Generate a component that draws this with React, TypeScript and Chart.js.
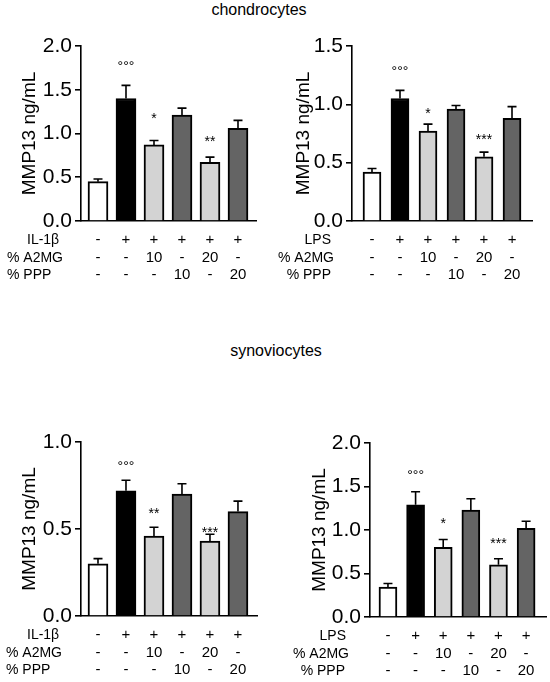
import React, { useEffect, useRef } from "react";
import { Chart, registerables } from "chart.js";

Chart.register(...registerables);

const FONT = "'Liberation Sans', Arial, Helvetica, sans-serif";

// ---------- data ----------
const groups = ["control", "stimulus", "A2MG 10", "PPP 10", "A2MG 20", "PPP 20"];
const stimRow = ["-", "+", "+", "+", "+", "+"];
const a2mgRow = ["-", "-", "10", "-", "20", "-"];
const pppRow = ["-", "-", "-", "10", "-", "20"];
const barColors = ["#ffffff", "#000000", "#d3d3d3", "#646464", "#d3d3d3", "#646464"];

const chondroIL1Mean = [0.45, 1.4, 0.87, 1.21, 0.67, 1.06];
const chondroIL1Sem = [0.03, 0.15, 0.05, 0.08, 0.06, 0.09];
const chondroIL1Marks = [
  { bar: 1, text: "°°°", y: 1.8 },
  { bar: 2, text: "*", y: 1.21 },
  { bar: 4, text: "**", y: 0.95 },
];

const chondroLPSMean = [0.42, 1.05, 0.77, 0.96, 0.55, 0.88];
const chondroLPSSem = [0.03, 0.07, 0.06, 0.03, 0.04, 0.1];
const chondroLPSMarks = [
  { bar: 1, text: "°°°", y: 1.31 },
  { bar: 2, text: "*", y: 0.95 },
  { bar: 4, text: "***", y: 0.73 },
];

const synoIL1Mean = [0.3, 0.72, 0.46, 0.7, 0.43, 0.6];
const synoIL1Sem = [0.03, 0.06, 0.05, 0.06, 0.04, 0.06];
const synoIL1Marks = [
  { bar: 1, text: "°°°", y: 0.88 },
  { bar: 2, text: "**", y: 0.61 },
  { bar: 4, text: "***", y: 0.5 },
];

const synoLPSMean = [0.345, 1.29, 0.8, 1.23, 0.6, 1.02];
const synoLPSSem = [0.04, 0.15, 0.09, 0.13, 0.07, 0.08];
const synoLPSMarks = [
  { bar: 1, text: "°°°", y: 1.67 },
  { bar: 2, text: "*", y: 1.11 },
  { bar: 4, text: "***", y: 0.88 },
];

const yTitle = "MMP13 ng/mL";

// ---------- layout ----------
type Mark = { bar: number; text: string; y: number };
type Header = { x: number; align: CanvasTextAlign };
type PanelCfg = {
  box: { left: number; top: number; width: number; height: number };
  area: { left: number; right: number; top: number; bottom: number };
  xMin: number;
  xMax: number;
  yMax: number;
  barThickness: number;
  stimLabel: string;
  means: number[];
  sems: number[];
  marks: Mark[];
  headers: Header[];
  yTitleX: number;
};

const panels: PanelCfg[] = [
  {
    box: { left: 0, top: 28, width: 275, height: 262 },
    area: { left: 81, right: 256, top: 46, bottom: 221 },
    xMin: -0.607,
    xMax: 5.643,
    yMax: 2,
    barThickness: 20,
    stimLabel: "IL-1β",
    means: chondroIL1Mean,
    sems: chondroIL1Sem,
    marks: chondroIL1Marks,
    headers: [
      { x: 27, align: "left" },
      { x: 7, align: "left" },
      { x: 7, align: "left" },
    ],
    yTitleX: 30,
  },
  {
    box: { left: 275, top: 28, width: 275, height: 262 },
    area: { left: 352, right: 532, top: 46, bottom: 221 },
    xMin: -0.714,
    xMax: 5.714,
    yMax: 1.5,
    barThickness: 18,
    stimLabel: "LPS",
    means: chondroLPSMean,
    sems: chondroLPSSem,
    marks: chondroLPSMarks,
    headers: [
      { x: 56, align: "right" },
      { x: 59, align: "right" },
      { x: 56, align: "right" },
    ],
    yTitleX: 29,
  },
  {
    box: { left: 0, top: 424, width: 275, height: 258 },
    area: { left: 81, right: 257, top: 442, bottom: 616 },
    xMin: -0.607,
    xMax: 5.68,
    yMax: 1,
    barThickness: 20,
    stimLabel: "IL-1β",
    means: synoIL1Mean,
    sems: synoIL1Sem,
    marks: synoIL1Marks,
    headers: [
      { x: 27, align: "left" },
      { x: 6, align: "left" },
      { x: 6, align: "left" },
    ],
    yTitleX: 30,
  },
  {
    box: { left: 275, top: 424, width: 275, height: 258 },
    area: { left: 370, right: 546, top: 443, bottom: 617 },
    xMin: -0.65,
    xMax: 5.72,
    yMax: 2,
    barThickness: 18,
    stimLabel: "LPS",
    means: synoLPSMean,
    sems: synoLPSSem,
    marks: synoLPSMarks,
    headers: [
      { x: 71, align: "right" },
      { x: 74, align: "right" },
      { x: 70, align: "right" },
    ],
    yTitleX: 45,
  },
];

function Panel({ cfg }: { cfg: PanelCfg }) {
  const ref = useRef<HTMLCanvasElement | null>(null);

  useEffect(() => {
    if (!ref.current) return;
    const { box, area } = cfg;
    const rowLabels = [stimRow, a2mgRow, pppRow];
    const headerTexts = [cfg.stimLabel, "% A2MG", "% PPP"];
    const rowOffsets = [19, 37, 54];

    const overlay = {
      id: "overlay",
      afterDatasetsDraw(chart: any) {
        const ctx = chart.ctx as CanvasRenderingContext2D;
        const xs = chart.scales.x;
        const ys = chart.scales.y;
        ctx.save();
        // error bars
        ctx.strokeStyle = "#000";
        ctx.lineWidth = 1.6;
        cfg.means.forEach((m, i) => {
          const x = xs.getPixelForValue(i);
          const y0 = ys.getPixelForValue(m);
          const y1 = ys.getPixelForValue(m + cfg.sems[i]);
          ctx.beginPath();
          ctx.moveTo(x, y0);
          ctx.lineTo(x, y1);
          ctx.moveTo(x - 4.5, y1);
          ctx.lineTo(x + 4.5, y1);
          ctx.stroke();
        });
        // significance marks
        ctx.fillStyle = "#000";
        ctx.font = `14px ${FONT}`;
        ctx.textAlign = "center";
        ctx.textBaseline = "alphabetic";
        cfg.marks.forEach((mk) => {
          const x = xs.getPixelForValue(mk.bar);
          const y = ys.getPixelForValue(mk.y);
          ctx.fillText(mk.text, x, y + 0.57 * 14);
        });
        ctx.restore();
      },
      afterDraw(chart: any) {
        const ctx = chart.ctx as CanvasRenderingContext2D;
        const xs = chart.scales.x;
        const ca = chart.chartArea;
        ctx.save();
        ctx.fillStyle = "#000";
        ctx.textBaseline = "middle";
        rowLabels.forEach((row, r) => {
          const y = ca.bottom + rowOffsets[r];
          ctx.font = `14px ${FONT}`;
          ctx.textAlign = cfg.headers[r].align;
          ctx.fillText(headerTexts[r], cfg.headers[r].x, y);
          ctx.font = `15px ${FONT}`;
          ctx.textAlign = "center";
          row.forEach((t, i) => {
            ctx.fillText(t, xs.getPixelForValue(i), y);
          });
        });
        // y-axis title
        ctx.font = `19px ${FONT}`;
        ctx.textAlign = "center";
        ctx.textBaseline = "middle";
        ctx.translate(cfg.yTitleX, (ca.top + ca.bottom) / 2);
        ctx.rotate(-Math.PI / 2);
        ctx.fillText(yTitle, 0, 0);
        ctx.restore();
      },
    };

    const chart = new Chart(ref.current, {
      type: "bar",
      data: {
        labels: groups,
        datasets: [
          {
            data: cfg.means.map((v, i) => ({ x: i, y: v })) as any,
            backgroundColor: barColors,
            borderColor: "#000",
            borderWidth: 2,
            barThickness: cfg.barThickness,
          },
        ],
      },
      options: {
        animation: false,
        responsive: true,
        maintainAspectRatio: false,
        layout: {
          padding: {
            left: 0,
            top: area.top - box.top,
            right: box.left + box.width - area.right,
            bottom: 0,
          },
        },
        plugins: {
          legend: { display: false },
          tooltip: { enabled: false },
          title: { display: false },
        },
        scales: {
          x: {
            type: "linear",
            offset: false,
            min: cfg.xMin,
            max: cfg.xMax,
            ticks: { display: false },
            grid: { display: false, offset: false },
            border: { display: true, color: "#000", width: 1.6 },
            afterFit: (s: any) => {
              s.height = box.top + box.height - area.bottom;
            },
          },
          y: {
            min: 0,
            max: cfg.yMax,
            ticks: {
              stepSize: 0.5,
              color: "#000",
              padding: 3,
              font: { family: FONT, size: 21 },
              callback: (v: any) => Number(v).toFixed(1),
            },
            grid: {
              display: true,
              drawOnChartArea: false,
              drawTicks: true,
              tickLength: 6,
              color: "#000",
              lineWidth: 1.6,
            },
            border: { display: true, color: "#000", width: 1.6 },
            afterFit: (s: any) => {
              s.width = area.left - box.left;
            },
          },
        },
      },
      plugins: [overlay],
    });

    return () => chart.destroy();
  }, [cfg]);

  const { box } = cfg;
  return (
    <div
      style={{
        position: "absolute",
        left: box.left,
        top: box.top,
        width: box.width,
        height: box.height,
      }}
    >
      <canvas ref={ref} />
    </div>
  );
}

export default function App() {
  return (
    <div
      style={{
        position: "absolute",
        left: 0,
        top: 0,
        width: 550,
        height: 682,
        background: "#fff",
        fontFamily: FONT,
        color: "#000",
      }}
    >
      <div
        style={{
          position: "absolute",
          left: 159,
          top: 0,
          width: 200,
          textAlign: "center",
          fontSize: 16,
          lineHeight: "20px",
        }}
      >
        chondrocytes
      </div>
      <div
        style={{
          position: "absolute",
          left: 176,
          top: 341,
          width: 200,
          textAlign: "center",
          fontSize: 16,
          lineHeight: "20px",
        }}
      >
        synoviocytes
      </div>
      {panels.map((p, i) => (
        <Panel key={i} cfg={p} />
      ))}
    </div>
  );
}
